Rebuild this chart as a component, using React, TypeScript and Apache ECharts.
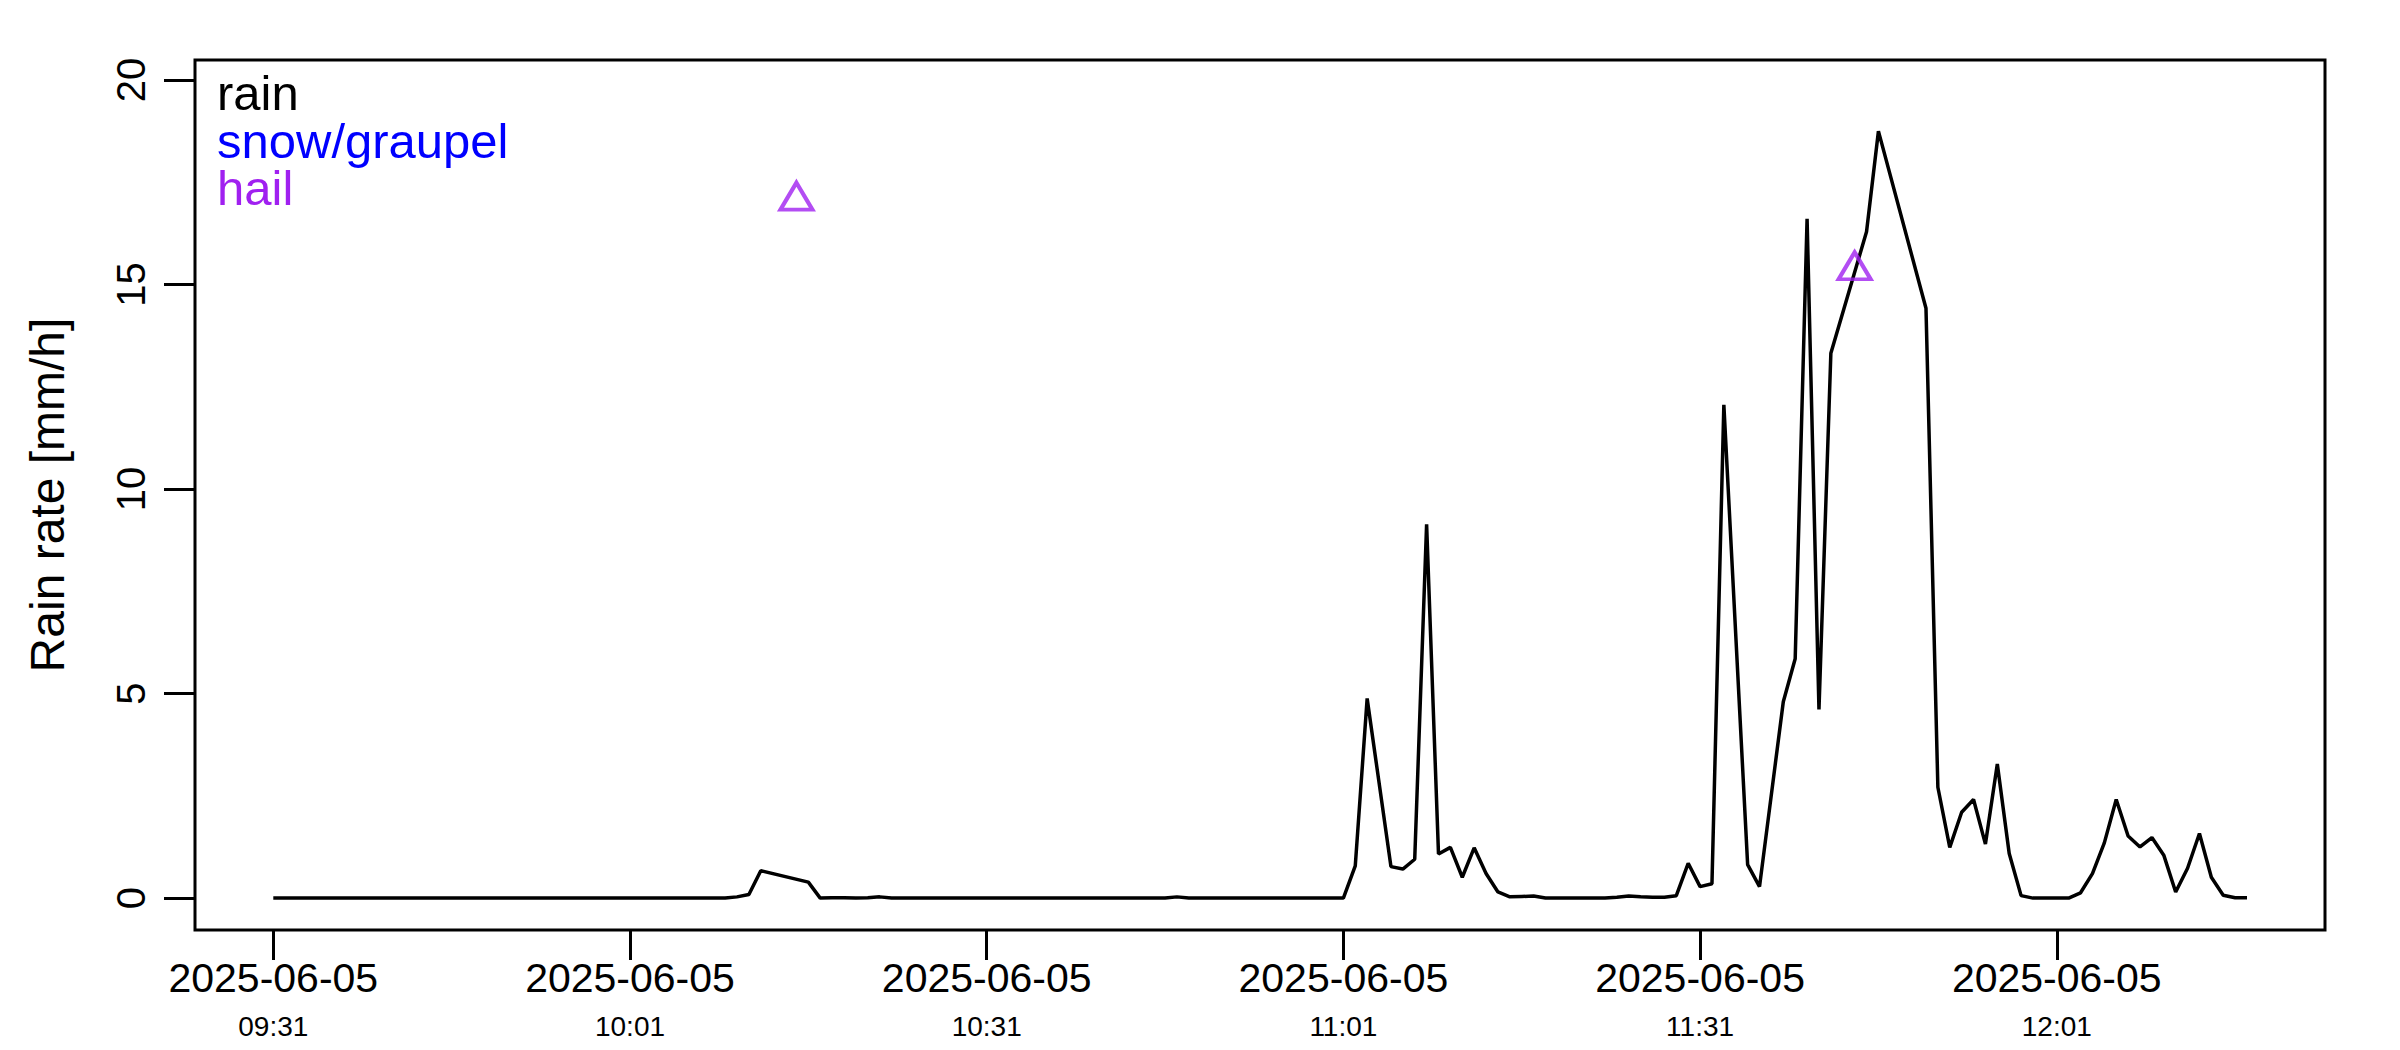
import { useEffect, useRef } from 'react';
import * as echarts from 'echarts';

// first reading of the day, all x values are minutes after this
const startTime = '09:31';
const dateLabel = '2025-06-05';

const rainMinutes = [
  0, 1, 2, 3, 4, 5, 6, 7, 8, 9,
  10, 11, 12, 13, 14, 15, 16, 17, 18, 19,
  20, 21, 22, 23, 24, 25, 26, 27, 28, 29,
  30, 31, 32, 33, 34, 35, 36, 37, 38, 39,
  40, 41, 45, 46, 47, 48, 49,
  50, 51, 52, 53, 54, 55, 56, 57, 58, 59,
  60, 61, 62, 63, 64, 65, 66, 67, 68, 69,
  70, 71, 72, 73, 74, 75, 76, 77, 78, 79,
  80, 81, 82, 83, 84, 85, 86, 87, 88, 89,
  90, 91, 92, 94, 95, 96, 97, 98, 99,
  100, 101, 102, 103, 104, 105, 106, 107, 108, 109,
  110, 111, 112, 113, 114, 115, 116, 117, 118, 119,
  120, 121, 122, 124, 125, 127, 128, 129,
  130, 131, 134, 135, 139,
  140, 141, 142, 143, 144, 145, 146, 147, 148, 149,
  150, 151, 152, 153, 154, 155, 156, 157, 158, 159,
  160, 161, 162, 163, 164, 165, 166,
];

const rainRate = [
  0, 0, 0, 0, 0, 0, 0, 0, 0, 0,
  0, 0, 0, 0, 0, 0, 0, 0, 0, 0,
  0, 0, 0, 0, 0, 0, 0, 0, 0, 0,
  0, 0, 0, 0, 0, 0, 0, 0, 0, 0.03,
  0.09, 0.67, 0.39, 0, 0.01, 0.01, 0,
  0.01, 0.03, 0, 0, 0, 0, 0, 0, 0, 0,
  0, 0, 0, 0, 0, 0, 0, 0, 0, 0,
  0, 0, 0, 0, 0, 0, 0.03, 0, 0, 0,
  0, 0, 0, 0, 0, 0, 0, 0, 0, 0,
  0, 0.79, 4.88, 0.77, 0.71, 0.95, 9.14, 1.08, 1.24,
  0.51, 1.23, 0.6, 0.15, 0.03, 0.04, 0.05, 0, 0, 0,
  0, 0, 0, 0.02, 0.05, 0.03, 0.02, 0.02, 0.06, 0.85,
  0.28, 0.35, 12.06, 0.82, 0.28, 4.8, 5.85, 16.61,
  4.61, 13.32, 16.29, 18.75, 14.42,
  2.71, 1.24, 2.1, 2.41, 1.32, 3.28, 1.09, 0.06, 0, 0,
  0, 0, 0.13, 0.6, 1.35, 2.41, 1.52, 1.25, 1.48, 1.05,
  0.15, 0.73, 1.58, 0.51, 0.07, 0.01, 0.01,
];

const snowMinutes: number[] = [];
const snowRate: number[] = [];

const hailMinutes = [44, 133];
const hailRate = [17.05, 15.35];

const xTickMinutes = [0, 30, 60, 90, 120, 150];
const yTicks = [0, 5, 10, 15, 20];

const legendNames = ['rain', 'snow/graupel', 'hail'];
const legendColors = ['#000000', '#0000FF', '#A020F0'];

const FONT = '"Liberation Sans", Arimo, Helvetica, Arial, sans-serif';

const startOfDay = (() => {
  const [h, m] = startTime.split(':').map(Number);
  return h * 60 + m;
})();

function clock(offset: number) {
  const t = Math.round(startOfDay + offset);
  const h = Math.floor(t / 60);
  const m = t % 60;
  return `${String(h).padStart(2, '0')}:${String(m).padStart(2, '0')}`;
}

export default function App() {
  const chartRef = useRef<HTMLDivElement>(null);

  useEffect(() => {
    if (!chartRef.current) return;
    const chart = echarts.init(chartRef.current, undefined, { renderer: 'svg' });

    const option: any = {
      animation: false,
      backgroundColor: '#ffffff',
      textStyle: { fontFamily: FONT, color: '#000' },
      grid: {
        left: 195,
        right: 75,
        top: 60,
        bottom: 120,
        show: true,
        borderColor: '#000',
        borderWidth: 3,
        backgroundColor: 'transparent',
        outerBoundsMode: 'none',
      },
      xAxis: {
        type: 'value',
        min: -6.585,
        max: 172.56,
        axisLine: { show: false, onZero: false },
        splitLine: { show: false },
        axisTick: {
          show: true,
          length: 30,
          customValues: xTickMinutes,
          lineStyle: { color: '#000', width: 3 },
        },
        axisLabel: {
          customValues: xTickMinutes,
          margin: 25,
          formatter: (v: number) => `{d|${dateLabel}}\n{t|${clock(v)}}`,
          rich: {
            d: { fontSize: 41, lineHeight: 45, fontFamily: FONT, color: '#000' },
            t: { fontSize: 28, lineHeight: 52, fontFamily: FONT, color: '#000' },
          },
        },
      },
      yAxis: {
        type: 'value',
        min: -0.78,
        max: 20.49,
        name: 'Rain rate [mm/h]',
        nameLocation: 'middle',
        nameRotate: 90,
        nameGap: 124,
        nameTextStyle: { fontSize: 48, fontFamily: FONT, color: '#000' },
        axisLine: { show: false, onZero: false },
        splitLine: { show: false },
        axisTick: {
          show: true,
          length: 31,
          customValues: yTicks,
          lineStyle: { color: '#000', width: 3 },
        },
        axisLabel: {
          customValues: yTicks,
          rotate: 90,
          margin: 44,
          fontSize: 40,
          fontFamily: FONT,
          color: '#000',
        },
      },
      graphic: legendNames.map((name, i) => ({
        type: 'text',
        x: 217,
        y: 93 + i * 47.5,
        style: {
          text: name,
          fill: legendColors[i],
          fontSize: 49,
          fontFamily: FONT,
          align: 'left',
          verticalAlign: 'middle',
          textAlign: 'left',
          textVerticalAlign: 'middle',
        },
      })),
      series: [
        {
          name: 'rain',
          type: 'line',
          data: rainMinutes.map((m, i) => [m, rainRate[i]]),
          showSymbol: false,
          symbol: 'none',
          lineStyle: { color: '#000', width: 3.5 },
          silent: true,
          z: 2,
        },
        {
          name: 'snow/graupel',
          type: 'scatter',
          data: snowMinutes.map((m, i) => [m, snowRate[i]]),
          itemStyle: { color: '#0000FF' },
          silent: true,
        },
        {
          name: 'hail',
          type: 'scatter',
          data: hailMinutes.map((m, i) => [m, hailRate[i]]),
          symbol: 'triangle',
          symbolSize: [32, 27],
          symbolOffset: [0, -4.5],
          itemStyle: { color: 'transparent', borderColor: '#A020F0', borderWidth: 4 },
          silent: true,
          z: 3,
        },
      ],
    };

    chart.setOption(option);
    return () => chart.dispose();
  }, []);

  return (
    <div
      ref={chartRef}
      style={{ position: 'fixed', left: 0, top: 0, width: 2400, height: 1050, background: '#fff' }}
    />
  );
}
